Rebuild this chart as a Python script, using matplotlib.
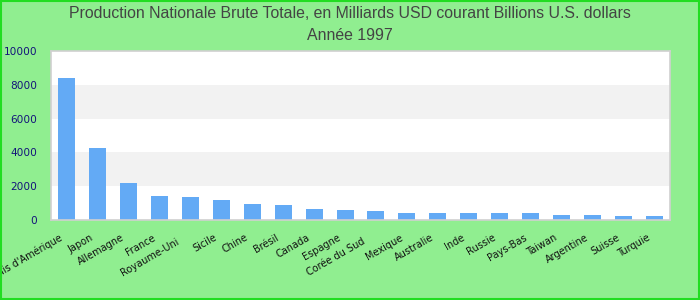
import numpy as np
import matplotlib
matplotlib.use("Agg")
import matplotlib.pyplot as plt
import matplotlib.transforms as mtransforms

countries = ["États-Unis d'Amérique", "Japon", "Allemagne", "France", "Royaume-Uni",
             "Sicile", "Chine", "Brésil", "Canada", "Espagne", "Corée du Sud",
             "Mexique", "Australie", "Inde", "Russie", "Pays-Bas", "Taiwan",
             "Argentine", "Suisse", "Turquie"]
gnp = [8400, 4250, 2200, 1420, 1360, 1180, 950, 880, 640, 590, 530,
       410, 400, 400, 410, 400, 290, 300, 250, 240]
yticks = [0, 2000, 4000, 6000, 8000, 10000]

title1 = "Production Nationale Brute Totale, en Milliards USD courant Billions U.S. dollars"
title2 = "Année 1997"

bg = "#90ee90"
fig = plt.figure(figsize=(7, 3), dpi=100, facecolor=bg)
ax = fig.add_axes([51 / 700, 80 / 300, 619 / 700, 169 / 300])
ax.set_facecolor("white")

# alternating bands
for lo in yticks[1::2][:-1]:
    ax.axhspan(lo, lo + 2000, color="#f2f2f2", zorder=0, lw=0)

x = np.arange(len(countries))
ax.bar(x, gnp, width=0.55, color="#63aaf5", zorder=2)

ax.set_xlim(-0.5, len(countries) - 0.5)
ax.set_ylim(0, 10000)
ax.set_yticks(yticks)
ax.set_yticklabels([str(v) for v in yticks], color="#14147a", fontsize=7.6,
                   family="DejaVu Sans")
ax.tick_params(axis="y", length=0, pad=10)
ax.set_xticks(x)
ax.set_xticklabels(countries, rotation=30, ha="right", va="center",
                   rotation_mode="anchor", fontsize=7, color="#111111",
                   family="DejaVu Sans")
ax.tick_params(axis="x", length=0, pad=12)
for i, lab in enumerate(ax.get_xticklabels()):
    dx, dy = -5, 0
    if countries[i] in ("Royaume-Uni", "Corée du Sud"):
        dx, dy = -12, -4
    lab.set_transform(lab.get_transform() +
                      mtransforms.ScaledTranslation(dx / 100, dy / 100, fig.dpi_scale_trans))

for s in ax.spines.values():
    s.set_color("#d0d0d0")
    s.set_linewidth(1.2)

tfont = ["Liberation Sans Narrow", "Liberation Sans", "DejaVu Sans"]
fig.text(0.5, 1 - 14 / 300, title1, ha="center", va="center", fontsize=11.4,
         color="#444444", family=tfont)
fig.text(0.5, 1 - 35 / 300, title2, ha="center", va="center", fontsize=11.4,
         color="#444444", family=tfont)

# outer border
fig.patches.append(plt.Rectangle((0.001, 0.002), 0.997, 0.995, transform=fig.transFigure,
                                 fill=False, edgecolor="#22dd22", lw=1.5))

fig.savefig("out.png", dpi=100, facecolor=bg)
